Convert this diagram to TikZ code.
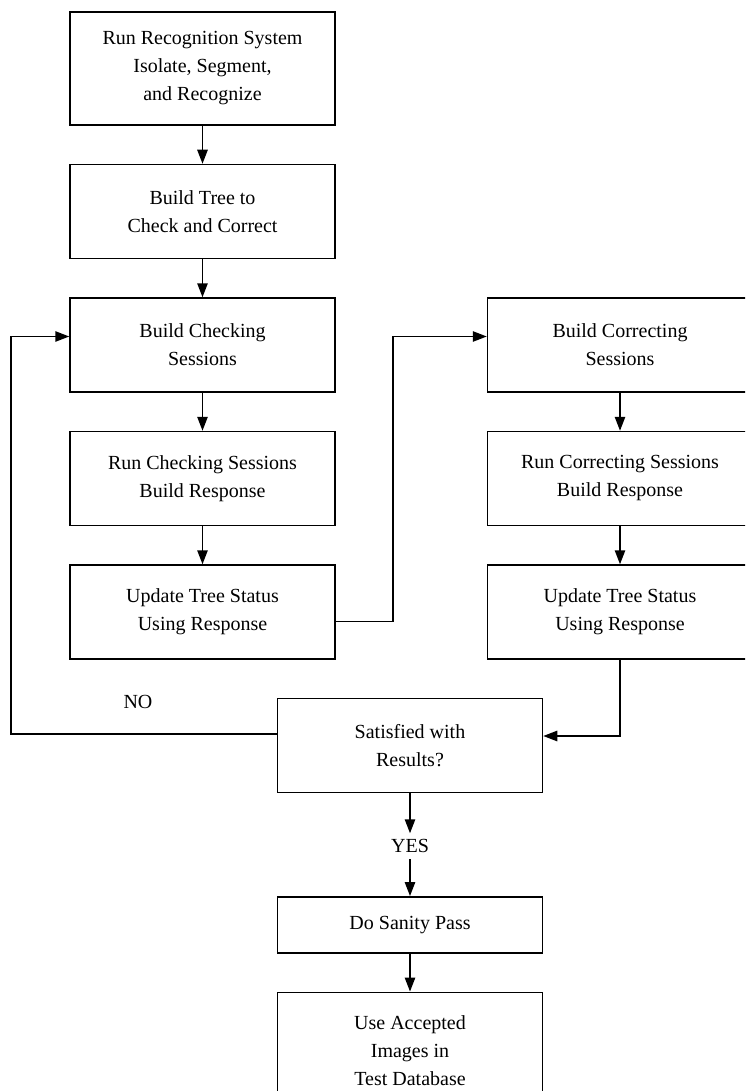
\documentclass[tikz,border=0pt]{standalone}
\usepackage{fontspec}
\setmainfont{Liberation Serif}
\usetikzlibrary{arrows.meta,positioning}

\begin{document}
\begin{tikzpicture}[
  x=0.5pt,y=-0.5pt,
  node distance=19pt,
  box/.style={
    draw=black,line width=0.75pt,fill=white,
    minimum width=132.5pt,minimum height=47pt,
    align=center,inner sep=0pt,
    font=\fontsize{10}{14}\selectfont
  },
  answer/.style={inner sep=0pt,font=\fontsize{10}{14}\selectfont},
  arrow/.style={-{Triangle[length=7pt,width=5.2pt]},draw=black,line width=0.75pt}
]
\useasboundingbox (0,0) rectangle (745,1091);
\clip (0,0) rectangle (745,1091);

% checking column
\node[box,minimum height=56.5pt] (runrec) at (202.5,68.5) {
  Run Recognition System\\
  Isolate, Segment,\\
  and Recognize
};
\node[box,below=of runrec] (buildtree) {
  Build Tree to\\
  Check and Correct
};
\node[box,below=of buildtree] (chkbuild) {
  Build Checking\\
  Sessions
};
\node[box,below=of chkbuild] (chkrun) {
  Run Checking Sessions\\
  Build Response
};
\node[box,below=of chkrun] (chkupdate) {
  Update Tree Status\\
  Using Response
};

% correcting column
\node[box,right=75.5pt of chkbuild] (corrbuild) {
  Build Correcting\\
  Sessions
};
\node[box,below=of corrbuild] (corrrun) {
  Run Correcting Sessions\\
  Build Response
};
\node[box,below=of corrrun] (corrupdate) {
  Update Tree Status\\
  Using Response
};

% decision and output
\node[box,below=19pt of chkupdate,xshift=103.75pt] (satisfied) {
  Satisfied with\\
  Results?
};
\node[answer,minimum height=12.5pt,below=20pt of satisfied] (yes) {YES};
\node[answer] (no) at (138,702) {NO};
\node[box,minimum height=28pt,below=18.5pt of yes] (sanity) {Do Sanity Pass};
\node[box,minimum height=58pt,below=of sanity] (useimg) {
  Use Accepted\\
  Images in\\
  Test Database
};

\draw[arrow] (runrec) -- (buildtree);
\draw[arrow] (buildtree) -- (chkbuild);
\draw[arrow] (chkbuild) -- (chkrun);
\draw[arrow] (chkrun) -- (chkupdate);
\draw[arrow] ([yshift=-4.75pt]chkupdate.east) -- ++(28.5pt,0)
  |- ([yshift=4.25pt]corrbuild.west);
\draw[arrow] (corrbuild) -- (corrrun);
\draw[arrow] (corrrun) -- (corrupdate);
\draw[arrow] (corrupdate.south) |- ([yshift=4.75pt]satisfied.east);
\draw[arrow] ([yshift=5.75pt]satisfied.west) -- ++(-133pt,0)
  |- ([yshift=4.25pt]chkbuild.west);
\draw[arrow] (satisfied) -- (yes);
\draw[arrow] (yes) -- (sanity);
\draw[arrow] (sanity) -- (useimg);

\end{tikzpicture}
\end{document}
